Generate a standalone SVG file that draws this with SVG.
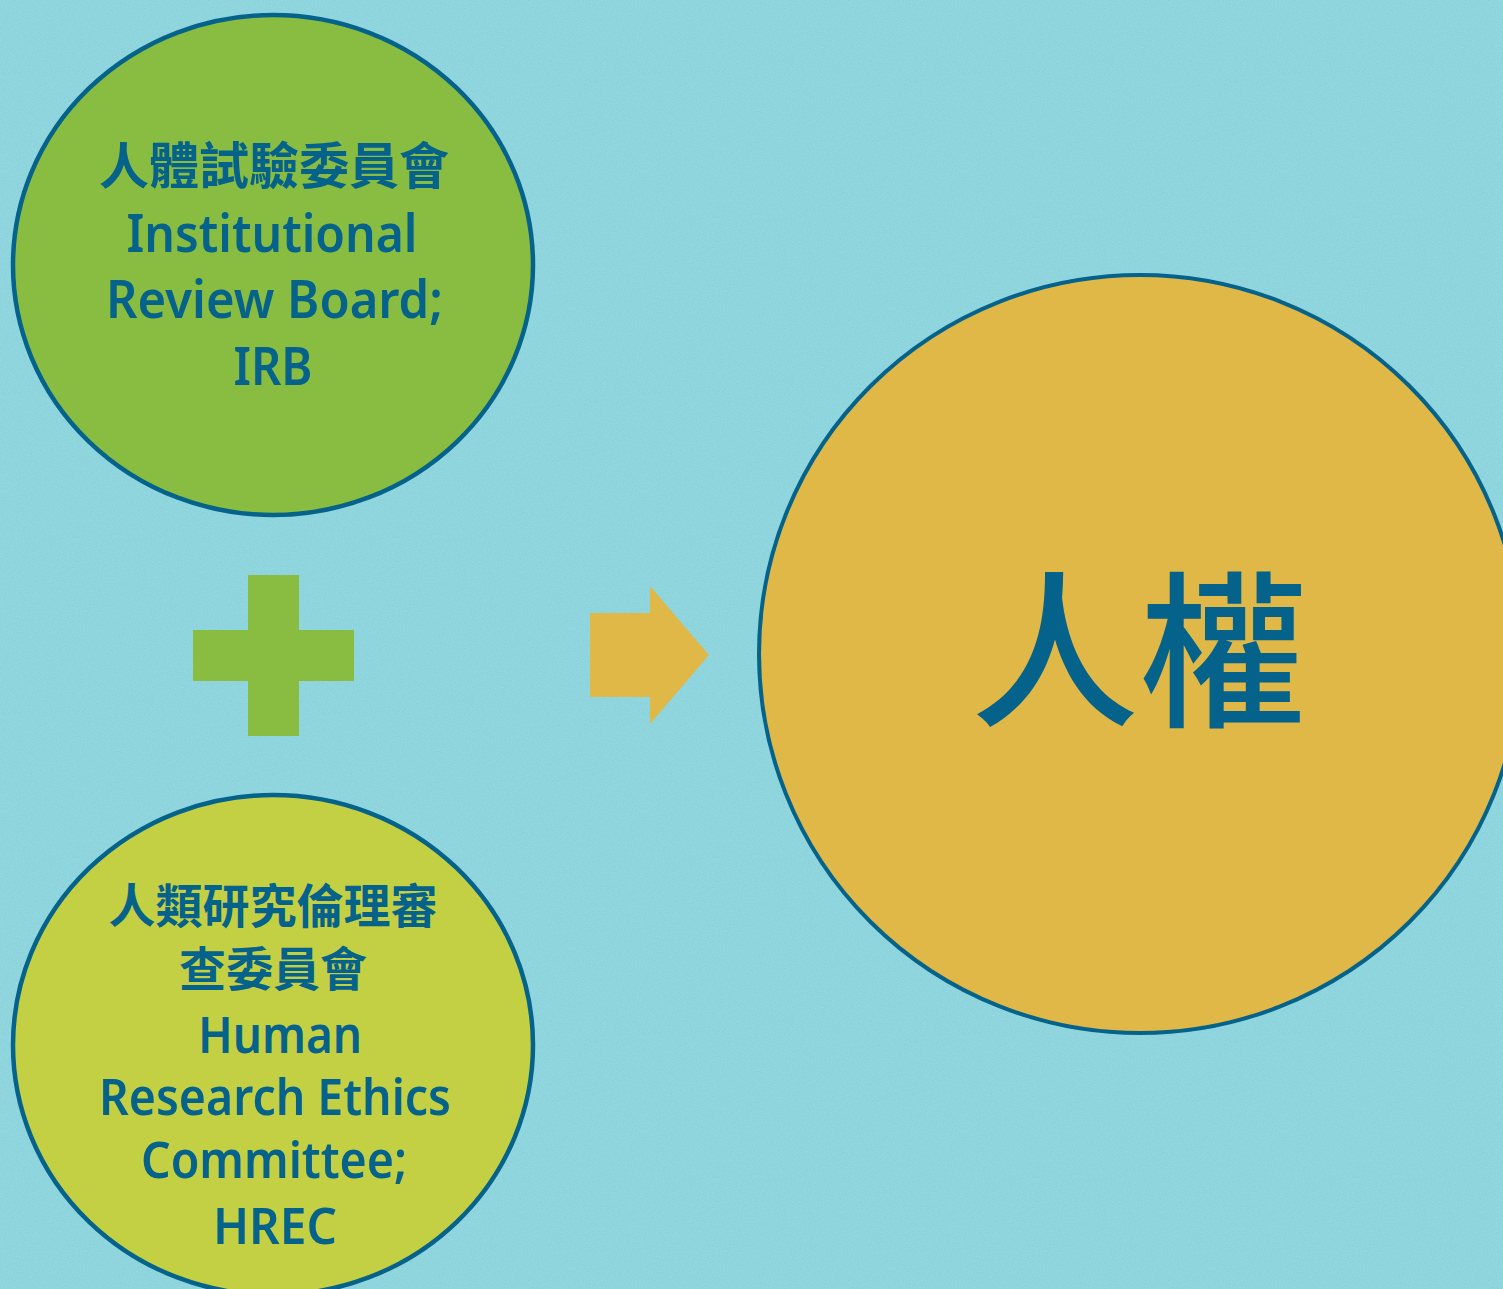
<svg xmlns="http://www.w3.org/2000/svg" width="1503" height="1289" viewBox="0 0 1503 1289">
<style>
.node-shape{stroke:#05628a;stroke-width:4.5}
.zh{font-family:"Noto Sans CJK TC","Noto Sans CJK SC",sans-serif;font-weight:700;fill:#05628a;text-anchor:middle}
.en{font-family:"Noto Sans","Open Sans",sans-serif;font-weight:600;fill:#05628a;text-anchor:middle}
</style>
<defs>
<filter id="grain" x="0" y="0" width="100%" height="100%">
<feTurbulence type="fractalNoise" baseFrequency="0.8" numOctaves="2" seed="3" result="n"/>
<feColorMatrix type="matrix" values="0 0 0 0 0.72  0 0 0 0 0.92  0 0 0 0 0.95  0 0 0 0.3 -0.1" in="n"/>
</filter>
</defs>
<rect width="1503" height="1289" fill="#8bd3dc"/>
<rect width="1503" height="1289" filter="url(#grain)"/>

<g id="connectors">
<g id="plus"><rect x="248" y="575" width="51" height="161" fill="#89bd41"/><rect x="193" y="630" width="161" height="51" fill="#89bd41"/></g>
<polygon id="arrow" points="590,613 650,613 650,586 709,655 650,724 650,697 590,697" fill="#e0b847"/>
</g>

<g id="node-irb">
<ellipse class="node-shape" cx="273" cy="265" rx="260" ry="250" fill="#89bd41"/>
<text class="zh" x="274" y="184" font-size="50">人體試驗委員會</text>
<text class="en" x="272" y="252" font-size="53" textLength="291" lengthAdjust="spacingAndGlyphs">Institutional</text>
<text class="en" x="274.5" y="318" font-size="53" textLength="337" lengthAdjust="spacingAndGlyphs">Review Board;</text>
<text class="en" x="273" y="385" font-size="53" textLength="79" lengthAdjust="spacingAndGlyphs">IRB</text>
</g>

<g id="node-hrec">
<ellipse class="node-shape" cx="273" cy="1045" rx="260" ry="250" fill="#c4d044"/>
<text class="zh" x="273" y="923" font-size="47">人類研究倫理審</text>
<text class="zh" x="273" y="986" font-size="47">查委員會</text>
<text class="en" x="280" y="1053" font-size="50" textLength="164" lengthAdjust="spacingAndGlyphs">Human</text>
<text class="en" x="275" y="1115" font-size="50" textLength="352" lengthAdjust="spacingAndGlyphs">Research Ethics</text>
<text class="en" x="274" y="1178" font-size="50" textLength="266" lengthAdjust="spacingAndGlyphs">Committee;</text>
<text class="en" x="275" y="1244" font-size="50" textLength="124" lengthAdjust="spacingAndGlyphs">HREC</text>
</g>

<g id="node-rights">
<ellipse class="node-shape" cx="1140" cy="654" rx="381" ry="379" fill="#e0b847" style="stroke-width:4"/>
<text class="zh" x="1139" y="714" font-size="168" style="font-weight:500">人權</text>
</g>
</svg>
